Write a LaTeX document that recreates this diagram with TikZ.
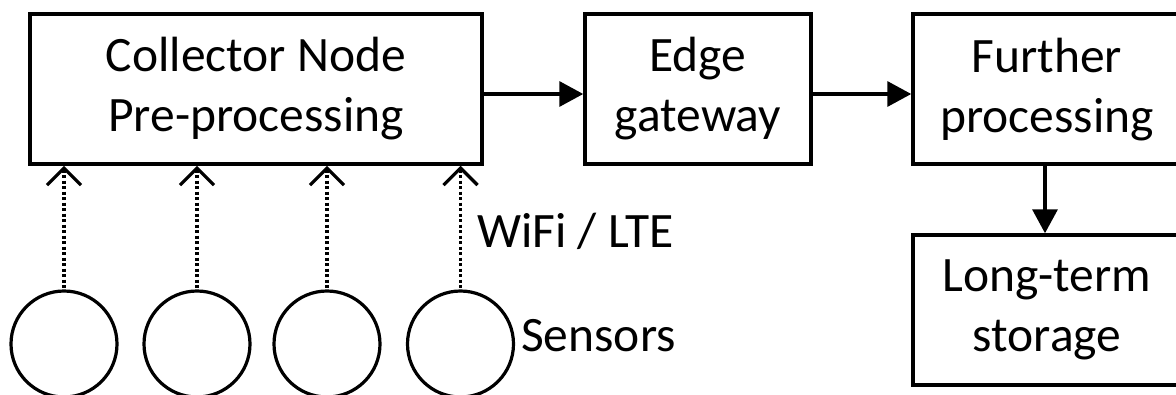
\documentclass[tikz,border=0pt]{standalone}
\usepackage{fontspec}
\setmainfont{Carlito}
\usetikzlibrary{arrows.meta}
\begin{document}
\begin{tikzpicture}[x=1pt,y=-1pt,
  every node/.style={font=\fontsize{49.5}{60}\selectfont},
  box/.style={draw,line width=3.5pt,rectangle,inner sep=0pt,align=center},
  sensor/.style={draw,line width=3.2pt,circle,minimum size=106pt,inner sep=0pt},
  flow/.style={line width=3.5pt,-{Triangle[length=24pt,width=25pt]}},
  radio/.style={line width=3.2pt,dash pattern=on 3pt off 2.5pt,{Straight Barb[length=17pt,width=34pt,line width=3.2pt]}-}
]
\useasboundingbox (0,0) rectangle (1176,394);
\node[box,minimum width=452pt,minimum height=150pt] (coll) at (256,89) {Collector Node\\Pre-processing};
\node[box,minimum width=226pt,minimum height=150pt] (edge) at (698,89) {Edge\\gateway};
\node[box,minimum width=277pt,minimum height=150pt] (further) at (1051.5,89) {};
\node[align=center,inner sep=0pt] (furthertxt) at (1047,90) {Further\\processing};
\node[box,minimum width=277pt,minimum height=150pt] (long) at (1051.5,310) {};
\node[align=center,inner sep=0pt] (longtxt) at (1047,310) {Long-term\\storage};
\node[sensor] (s1) at (64,344) {};
\node[sensor] (s2) at (197,344) {};
\node[sensor] (s3) at (327,344) {};
\node[sensor] (s4) at (460.5,344) {};
\node[anchor=base west,inner sep=0pt] (wifi) at (477,247) {WiFi / LTE};
\node[anchor=base west,inner sep=0pt] (sens) at (521,351) {Sensors};
\coordinate (fo) at (1045,164);
\draw[flow] (coll.east |- 0,94) -- (edge.west |- 0,94);
\draw[flow] (edge.east |- 0,94) -- (further.west |- 0,94);
\draw[flow] (fo) -- (fo |- long.north);
\foreach \i in {1,...,4} {
  \draw[radio] (s\i.north |- coll.south) -- (s\i.north);
}
\end{tikzpicture}
\end{document}
